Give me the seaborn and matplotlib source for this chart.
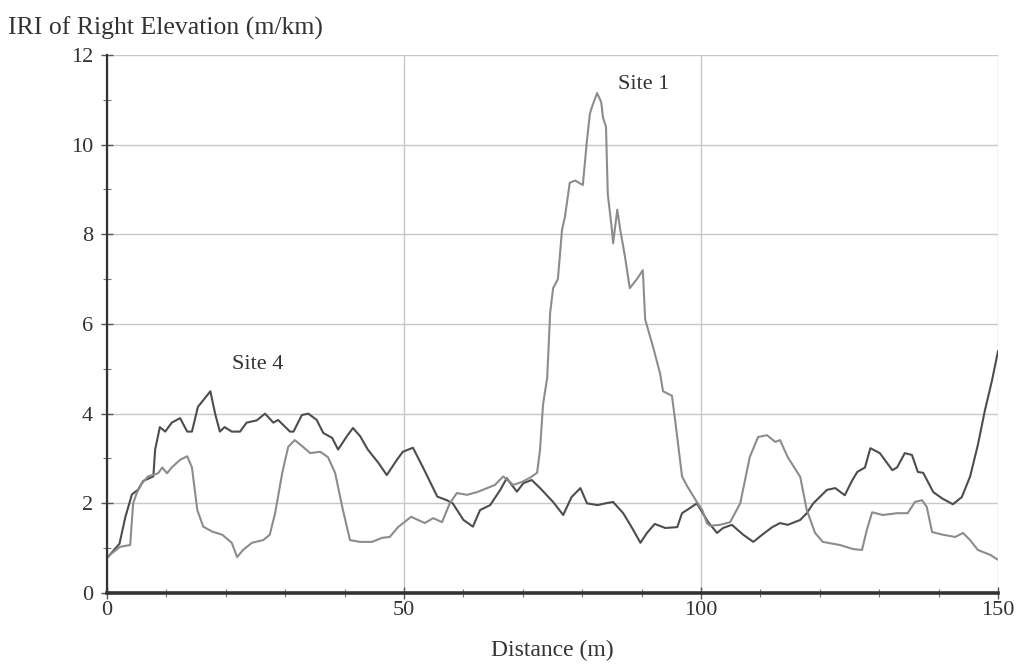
import numpy as np
import pandas as pd
import matplotlib
matplotlib.use("Agg")
import matplotlib.pyplot as plt
from matplotlib.ticker import MultipleLocator
import seaborn as sns

# ---------------------------------------------------------------------------
# Data (distance in m, IRI in m/km)
# ---------------------------------------------------------------------------
site4_dist = [0, 2.1, 3.1, 4.2, 5.2, 6.1, 7.8, 8.1, 8.9, 9.8, 10.9, 12.3, 13.5, 14.3,
              15.3, 16.2, 17.4, 18.2, 19.0, 19.8, 21.0, 22.4, 23.5, 25.2, 26.6, 28.0,
              28.8, 30.8, 31.4, 32.8, 33.9, 35.3, 36.4, 37.9, 38.9, 40.4, 41.4, 42.6,
              43.9, 45.7, 47.1, 48.8, 49.8, 51.5, 53.2, 55.6, 57.2, 58.2, 60.0, 61.6,
              62.8, 64.5, 66.2, 67.3, 69.0, 70.1, 71.5, 72.9, 75.1, 76.8, 78.2, 79.7,
              80.8, 82.6, 83.9, 85.2, 86.9, 88.4, 89.8, 90.9, 92.2, 94.0, 96.0, 96.8,
              98.2, 99.3, 101.2, 102.7, 103.7, 105.2, 107.1, 108.8, 110.3, 112.0,
              113.3, 114.6, 116.7, 117.8, 118.9, 121.2, 122.6, 124.2, 125.4, 126.3,
              127.6, 128.5, 130.1, 132.2, 133.0, 134.3, 135.5, 136.5, 137.4, 139.1,
              140.7, 142.4, 143.9, 145.3, 146.6, 147.8, 149.0, 150.0]
site4_iri = [0.78, 1.1, 1.7, 2.2, 2.3, 2.5, 2.6, 3.2, 3.7, 3.6, 3.8, 3.9, 3.6, 3.6,
             4.15, 4.3, 4.5, 4.0, 3.6, 3.7, 3.6, 3.6, 3.8, 3.85, 4.0, 3.8,
             3.86, 3.6, 3.6, 3.97, 4.0, 3.86, 3.57, 3.46, 3.2, 3.5, 3.68, 3.5,
             3.2, 2.9, 2.63, 2.97, 3.15, 3.24, 2.8, 2.15, 2.07, 2.0, 1.63, 1.48,
             1.85, 1.96, 2.3, 2.56, 2.26, 2.45, 2.52, 2.34, 2.03, 1.74, 2.14, 2.34,
             2.0, 1.96, 2.0, 2.03, 1.78, 1.45, 1.12, 1.34, 1.54, 1.45, 1.47, 1.78,
             1.9, 2.0, 1.58, 1.34, 1.45, 1.52, 1.3, 1.14, 1.3, 1.47,
             1.56, 1.52, 1.63, 1.78, 2.0, 2.3, 2.34, 2.18, 2.5, 2.7,
             2.8, 3.23, 3.12, 2.74, 2.8, 3.12, 3.08, 2.7, 2.68, 2.25,
             2.1, 1.98, 2.14, 2.6, 3.3, 4.08, 4.75, 5.4]

site1_dist = [0, 2.2, 3.9, 4.4, 5.0, 5.9, 6.9, 8.6, 9.3, 10.1, 10.9, 12.3, 13.5, 14.3,
              15.2, 16.2, 17.7, 19.4, 21.0, 21.9, 22.9, 24.4, 26.3, 27.4, 28.3, 29.5,
              30.5, 31.6, 33.0, 34.2, 35.9, 37.2, 38.4, 39.6, 40.9, 42.6, 44.6, 46.3,
              47.6, 49.0, 51.2, 53.5, 54.9, 56.4, 57.7, 58.9, 60.6, 62.3, 64.0, 65.3,
              66.7, 68.4, 69.9, 71.2, 72.4, 72.9, 73.4, 74.1, 74.6, 75.1, 75.9, 76.6,
              77.1, 77.9, 78.8, 80.1, 80.8, 81.3, 81.8, 82.5, 83.2, 83.5, 84.0, 84.3,
              85.0, 85.2, 85.9, 86.4, 87.2, 88.0, 89.2, 90.2, 90.6, 91.9, 93.1, 93.6,
              95.1, 95.6, 96.8, 97.6, 98.5, 99.3, 100.2, 101.0, 101.5, 103.2, 104.9,
              106.6, 108.2, 109.6, 111.1, 112.5, 113.3, 114.6, 116.7, 117.8, 119.2,
              120.5, 123.4, 125.6, 127.1, 127.9, 128.8, 130.6, 133.0, 134.8, 136.0,
              137.2, 138.0, 138.9, 140.7, 142.8, 144.1, 145.3, 146.6, 148.7, 150.0]
site1_iri = [0.8, 1.03, 1.07, 2.0, 2.23, 2.45, 2.6, 2.67, 2.8, 2.67, 2.8, 2.97, 3.05, 2.8,
             1.85, 1.48, 1.37, 1.3, 1.12, 0.8, 0.96, 1.12, 1.18, 1.3, 1.78, 2.68,
             3.26, 3.41, 3.26, 3.12, 3.15, 3.03, 2.68, 1.92, 1.18, 1.14, 1.14, 1.23,
             1.25, 1.47, 1.7, 1.56, 1.67, 1.58, 2.0, 2.23, 2.19, 2.25, 2.34, 2.41,
             2.6, 2.41, 2.48, 2.57, 2.68, 3.2, 4.2, 4.8, 6.25, 6.8, 7.0, 8.1,
             8.4, 9.15, 9.2, 9.1, 10.1, 10.7, 10.9, 11.15, 10.95, 10.6, 10.4, 8.9,
             8.1, 7.8, 8.55, 8.1, 7.5, 6.8, 7.0, 7.2, 6.1, 5.5, 4.9, 4.5,
             4.4, 3.9, 2.6, 2.4, 2.2, 2.03, 1.85, 1.56, 1.5, 1.52, 1.58,
             2.0, 3.03, 3.48, 3.52, 3.37, 3.41, 3.03, 2.59, 1.85, 1.34,
             1.14, 1.07, 0.98, 0.96, 1.4, 1.8, 1.74, 1.78, 1.78, 2.03,
             2.07, 1.92, 1.36, 1.3, 1.25, 1.34, 1.18, 0.96, 0.85, 0.74]

site_names = ["Site 4", "Site 1"]
site_colors = ["#4d4d4d", "#8c8c8c"]

df = pd.concat([
    pd.DataFrame({"Distance": site4_dist, "IRI": site4_iri, "site": "Site 4"}),
    pd.DataFrame({"Distance": site1_dist, "IRI": site1_iri, "site": "Site 1"}),
], ignore_index=True)

# ---------------------------------------------------------------------------
# Figure
# ---------------------------------------------------------------------------
sns.set_style("white")
plt.rcParams["font.family"] = ["Liberation Serif", "DejaVu Serif"]

fig = plt.figure(figsize=(10.25, 6.69), dpi=100)
ax = fig.add_axes([0.1044, 0.1136, 0.8693, 0.8042])

sns.lineplot(data=df, x="Distance", y="IRI", hue="site",
             hue_order=site_names, palette=site_colors,
             linewidth=1.5, legend=False, ax=ax, sort=False)

ax.set_xlim(0, 150)
ax.set_ylim(0, 12)
ax.xaxis.set_major_locator(MultipleLocator(50))
ax.xaxis.set_minor_locator(MultipleLocator(10))
ax.yaxis.set_major_locator(MultipleLocator(2))
ax.yaxis.set_minor_locator(MultipleLocator(1))

ax.grid(True, which="major", color="#c8c8c8", linewidth=1.0)
ax.set_axisbelow(True)

for s in ["top", "right"]:
    ax.spines[s].set_visible(False)
ax.spines["left"].set_color("#333333")
ax.spines["left"].set_linewidth(1.6)
ax.spines["bottom"].set_color("#333333")
ax.spines["bottom"].set_linewidth(2.6)

ax.tick_params(axis="both", which="major", direction="inout", length=8,
               width=1.0, color="#555555", labelsize=16, labelcolor="#333333")
ax.tick_params(axis="both", which="minor", direction="inout", length=6,
               width=0.8, color="#777777")
ax.tick_params(axis="x", which="both", bottom=True, pad=2)
ax.tick_params(axis="y", which="both", left=True, pad=6)

ax.set_xlabel("Distance (m)", fontsize=17, color="#333333", labelpad=14)
ax.set_ylabel("")
fig.text(0.008, 0.958, "IRI of Right Elevation (m/km)", fontsize=18.5,
         color="#333333", ha="left", va="center")

ax.text(25.3, 5.1, "Site 4", fontsize=16, color="#333333", ha="center", va="center")
ax.text(90.3, 11.35, "Site 1", fontsize=16, color="#333333", ha="center", va="center")

fig.savefig("out.png", dpi=100)
